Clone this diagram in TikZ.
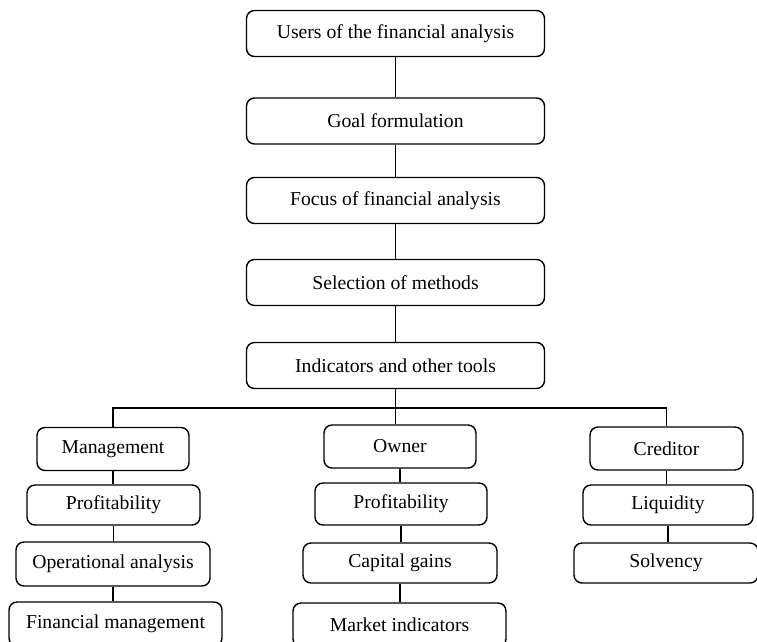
\documentclass[tikz,border=0pt]{standalone}
\usepackage{fontspec}
\setmainfont{Liberation Serif}
\tikzset{
  stage/.style={draw, line width=1.4pt, rounded corners=8pt, inner sep=0pt,
    font=\fontsize{19.7}{22}\selectfont},
  link/.style={line width=1.4pt}
}
\begin{document}
\begin{tikzpicture}[x=1pt,y=-1pt]
% Page size in pixels of the original figure
\def\pagew{757}
\def\pageh{641}
\def\spine{395.5}

\useasboundingbox (0,0) rectangle (\pagew,\pageh);
\clip (0,0) rectangle (\pagew,\pageh);

% Main chain
\foreach \name/\y/\txt in {users/33.5/Users of the financial analysis,
    goal/121/Goal formulation,
    focus/200.5/Focus of financial analysis,
    select/282.5/Selection of methods,
    tools/365.5/Indicators and other tools} {
    \node[stage, minimum width=298pt, minimum height=46pt] (\name) at (\spine,\y) {\txt};
}
\foreach \a/\b in {users/goal, goal/focus, focus/select, select/tools} {
    \draw[link] (\a.south) -- (\b.north);
}

% Three user groups
\foreach \name/\x/\y/\w/\h/\txt in {
    mgmt/113/449/152/43/Management,
    mprof/113.5/505/173/40/Profitability,
    oper/113/564/194/44/Operational analysis,
    finm/115.5/624/213/44/Financial management,
    owner/400/446.5/152/43/Owner,
    oprof/401/504/172/42/Profitability,
    capg/400/563/194/40/Capital gains,
    mark/399.5/625/213/44/Market indicators,
    cred/666.5/448.5/153/43/Creditor,
    liq/668/505/170/40/Liquidity,
    solv/666/563/184/40/Solvency} {
    \node[stage, minimum width=\w pt, minimum height=\h pt] (\name) at (\x,\y) {\txt};
}

% Branching below the chain
\coordinate (bus) at (tools.south |- 0,408);
\draw[link] (tools.south) -- (tools.south |- owner.north);
\draw[link] (mgmt.north) |- (bus) -| (cred.north);

\foreach \a/\b in {mgmt/mprof, mprof/oper, oper/finm,
                   owner/oprof, oprof/capg, capg/mark,
                   cred/liq, liq/solv} {
    \draw[link] (\a.south) -- (\a.south |- \b.north);
}
\end{tikzpicture}
\end{document}
